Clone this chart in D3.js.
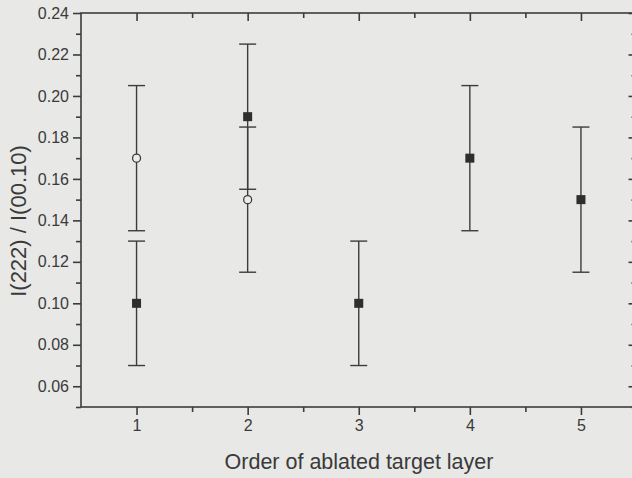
<!DOCTYPE html>
<html>
<head>
<meta charset="utf-8">
<script src="https://cdn.jsdelivr.net/npm/d3@7"></script>
<style>
html,body{margin:0;padding:0;background:#e8e8e6;}
svg{display:block;}
text{font-family:"Liberation Sans",Arial,Helvetica,sans-serif;fill:#3a3a3a;}
</style>
</head>
<body>
<svg id="chart" width="632" height="478"></svg>
<script>
// Data
const layers = [1, 2, 3, 4, 5];
const filledValues = [0.10, 0.19, 0.10, 0.17, 0.15];
const filledErr = [0.03, 0.035, 0.03, 0.035, 0.035];
const openLayers = [1, 2];
const openValues = [0.17, 0.15];
const openErr = [0.035, 0.035];
const yTicks = [0.06, 0.08, 0.10, 0.12, 0.14, 0.16, 0.18, 0.20, 0.22, 0.24];
const xTicks = [1, 2, 3, 4, 5];
const xTitle = "Order of ablated target layer";
const yTitle = "I(222) / I(00.10)";

const ink = "#3c3c3c";
const svg = d3.select("#chart");
const L = 81, R = 636.5, T = 13, B = 407;
const x = d3.scaleLinear().domain([0.5, 5.5]).range([L, R]);
const y = d3.scaleLinear().domain([0.05, 0.24]).range([B, T]);

// frame
svg.append("rect").attr("x", L).attr("y", T).attr("width", R - L).attr("height", B - T)
  .attr("fill", "none").attr("stroke", ink).attr("stroke-width", 1.6);

// axes
const leftAx = d3.axisLeft(y).tickValues(yTicks).tickFormat(d3.format(".2f")).tickSize(8).tickPadding(4);
svg.append("g").attr("transform", `translate(${L},0)`).call(leftAx);
const minorY = d3.range(0.05, 0.2401, 0.01).filter(v => !yTicks.some(t => Math.abs(t - v) < 1e-6));
svg.append("g").attr("transform", `translate(${L},0)`).call(d3.axisLeft(y).tickValues(minorY).tickSize(5).tickFormat(""));
svg.append("g").attr("transform", `translate(${R},0)`).call(d3.axisLeft(y).tickValues(yTicks).tickSize(8).tickFormat(""));
svg.append("g").attr("transform", `translate(${R},0)`).call(d3.axisLeft(y).tickValues(minorY).tickSize(5).tickFormat(""));

const bottomAx = d3.axisBottom(x).tickValues(xTicks).tickFormat(d3.format("d")).tickSize(8).tickPadding(5);
svg.append("g").attr("transform", `translate(0,${B})`).call(bottomAx);
const minorX = [1.5, 2.5, 3.5, 4.5];
svg.append("g").attr("transform", `translate(0,${B})`).call(d3.axisBottom(x).tickValues(minorX).tickSize(5).tickFormat(""));
svg.append("g").attr("transform", `translate(0,${T})`).call(d3.axisBottom(x).tickValues(xTicks).tickSize(8).tickFormat(""));
svg.append("g").attr("transform", `translate(0,${T})`).call(d3.axisBottom(x).tickValues(minorX).tickSize(5).tickFormat(""));

svg.selectAll(".domain").remove();
svg.selectAll(".tick line").attr("stroke", ink).attr("stroke-width", 1.6);
svg.selectAll("g").attr("font-size", null).attr("font-family", null);
svg.selectAll(".tick text").attr("font-size", 16).attr("fill", ink)
  .style("font-family", '"Liberation Sans",Arial,sans-serif').style("font-size", "16px");

// titles
svg.append("text").attr("x", (223 + 495) / 2).attr("y", 469).attr("text-anchor", "middle")
  .style("font-size", "21.5px").text(xTitle);
svg.append("text").attr("transform", "translate(26,221) rotate(-90)").attr("text-anchor", "middle")
  .style("font-size", "22px").text(yTitle);

// error bars
function errBars(xs, vs, es) {
  const g = svg.append("g").attr("stroke", ink).attr("stroke-width", 1.4);
  xs.forEach((xv, i) => {
    const cx = x(xv), lo = y(vs[i] - es[i]), hi = y(vs[i] + es[i]);
    g.append("line").attr("x1", cx).attr("x2", cx).attr("y1", lo).attr("y2", hi);
    g.append("line").attr("x1", cx - 8.5).attr("x2", cx + 8.5).attr("y1", lo).attr("y2", lo);
    g.append("line").attr("x1", cx - 8.5).attr("x2", cx + 8.5).attr("y1", hi).attr("y2", hi);
  });
}
errBars(layers, filledValues, filledErr);
errBars(openLayers, openValues, openErr);

// markers
svg.append("g").selectAll("rect").data(layers).join("rect")
  .attr("x", (d) => x(d) - 4.5).attr("y", (d, i) => y(filledValues[i]) - 4.5)
  .attr("width", 9).attr("height", 9).attr("fill", "#2e2e2e");
svg.append("g").selectAll("circle").data(openLayers).join("circle")
  .attr("cx", d => x(d)).attr("cy", (d, i) => y(openValues[i])).attr("r", 4)
  .attr("fill", "#ececea").attr("stroke", ink).attr("stroke-width", 1.3);
</script>
</body>
</html>
